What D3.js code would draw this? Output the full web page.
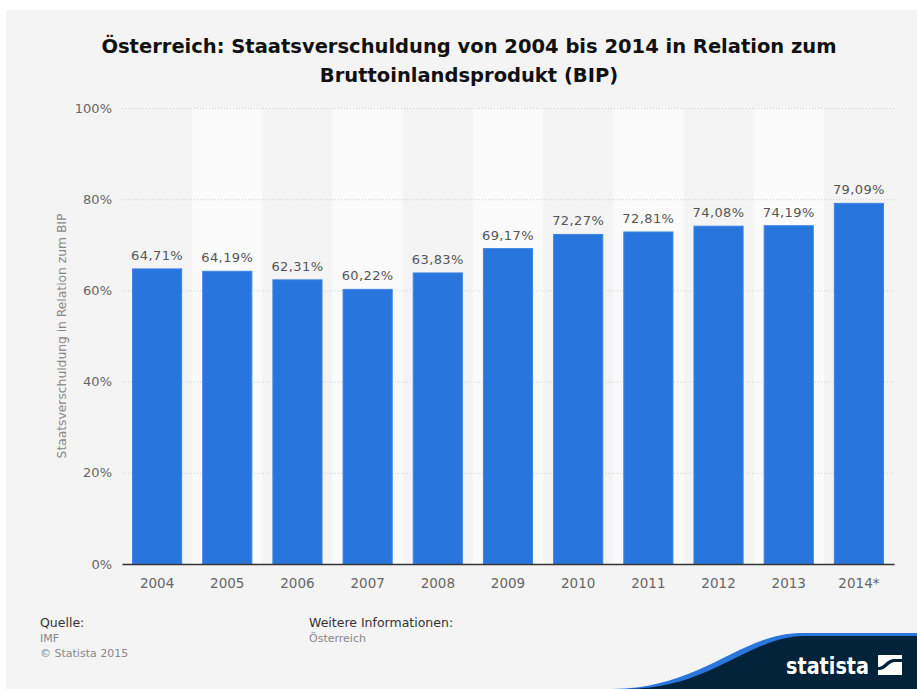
<!DOCTYPE html>
<html>
<head>
<meta charset="utf-8">
<script src="https://cdn.jsdelivr.net/npm/d3@7"></script>
<style>
  html, body { margin: 0; padding: 0; background: #ffffff; }
  svg { display: block; }
  text { font-family: "DejaVu Sans", sans-serif; }
</style>
</head>
<body>
<svg id="chart" width="917" height="689"></svg>
<script>
// Austrian government debt as share of GDP
const years = ["2004", "2005", "2006", "2007", "2008", "2009", "2010", "2011", "2012", "2013", "2014*"];
const debtShare = [64.71, 64.19, 62.31, 60.22, 63.83, 69.17, 72.27, 72.81, 74.08, 74.19, 79.09];
const yTicks = [0, 20, 40, 60, 80, 100];

const titleLines = [
  "Österreich: Staatsverschuldung von 2004 bis 2014 in Relation zum",
  "Bruttoinlandsprodukt (BIP)"
];

const svg = d3.select("#chart");
const W = 917, H = 689;

// panel background
svg.append("rect").attr("x", 6).attr("y", 10).attr("width", W - 6).attr("height", H - 10).attr("fill", "#f4f4f4");

const plot = { left: 122, right: 894, top: 108, bottom: 564 };

const x = d3.scaleBand().domain(years).range([plot.left, plot.right]).paddingInner(0.3).paddingOuter(0.15);
const bandX = d3.scaleBand().domain(years).range([plot.left, plot.right]);
const y = d3.scaleLinear().domain([0, 100]).range([plot.bottom, plot.top]);

// alternating column stripes
svg.append("g").selectAll("rect")
  .data(years.filter((d, i) => i % 2 === 1))
  .join("rect")
  .attr("x", d => bandX(d))
  .attr("y", plot.top)
  .attr("width", bandX.bandwidth())
  .attr("height", plot.bottom - plot.top)
  .attr("fill", "#fafafa");

// title
svg.append("g").selectAll("text")
  .data(titleLines)
  .join("text")
  .attr("x", 469)
  .attr("y", (d, i) => 53 + i * 29)
  .attr("text-anchor", "middle")
  .attr("font-weight", "bold")
  .attr("font-size", 19.5)
  .attr("fill", "#111")
  .text(d => d);

// y axis with dotted gridlines
const yAxis = d3.axisLeft(y).tickValues(yTicks).tickSize(-(plot.right - plot.left)).tickPadding(10)
  .tickFormat(d => d + "%");
const gy = svg.append("g").attr("transform", `translate(${plot.left},0)`).call(yAxis);
gy.select(".domain").remove();
gy.selectAll(".tick line").attr("stroke", "#cfcfcf").attr("stroke-dasharray", "1,2");
gy.selectAll(".tick text").attr("font-size", 13).attr("fill", "#666").attr("font-family", "'DejaVu Sans', sans-serif");

// bars
svg.append("g").selectAll("rect")
  .data(years.map((yr, i) => ({ yr, v: debtShare[i] })))
  .join("rect")
  .attr("x", d => x(d.yr))
  .attr("y", d => y(d.v))
  .attr("width", x.bandwidth())
  .attr("height", d => y(0) - y(d.v))
  .attr("fill", "#2875dd")
  .attr("stroke", "#3d84e3")
  .attr("stroke-width", 1);

// value labels
svg.append("g").selectAll("text")
  .data(years.map((yr, i) => ({ yr, v: debtShare[i] })))
  .join("text")
  .attr("x", d => x(d.yr) + x.bandwidth() / 2)
  .attr("y", d => y(d.v) - 9)
  .attr("text-anchor", "middle")
  .attr("font-size", 13)
  .attr("letter-spacing", 0.4)
  .attr("fill", "#555")
  .text(d => d.v.toFixed(2).replace(".", ",") + "%");

// x axis
const xAxis = d3.axisBottom(bandX).tickSize(0).tickPadding(13);
const gx = svg.append("g").attr("transform", `translate(0,${plot.bottom})`).call(xAxis);
gx.select(".domain").attr("stroke", "#333").attr("stroke-width", 1.5);
gx.selectAll(".tick text").attr("font-size", 13.5).attr("fill", "#666").attr("font-family", "'DejaVu Sans', sans-serif")
  .attr("dy", "0.85em");

// y axis title
svg.append("text")
  .attr("transform", `translate(66,${(plot.top + plot.bottom) / 2}) rotate(-90)`)
  .attr("text-anchor", "middle")
  .attr("font-size", 12.3)
  .attr("fill", "#888")
  .text("Staatsverschuldung in Relation zum BIP");

// footer
const foot = svg.append("g");
foot.append("text").attr("x", 40).attr("y", 627).attr("font-size", 12.5).attr("fill", "#333").text("Quelle:");
foot.append("text").attr("x", 40).attr("y", 642).attr("font-size", 11).attr("fill", "#888").text("IMF");
foot.append("text").attr("x", 40).attr("y", 657).attr("font-size", 11).attr("fill", "#888").text("© Statista 2015");
foot.append("text").attr("x", 309).attr("y", 627).attr("font-size", 12.5).attr("fill", "#333").text("Weitere Informationen:");
foot.append("text").attr("x", 309).attr("y", 642).attr("font-size", 11).attr("fill", "#888").text("Österreich");

// brand corner
const logo = svg.append("g");
logo.append("path")
  .attr("d", `M612,${H} C700,${H} 740,634 800,633 L${W},633 L${W},${H} Z`)
  .attr("fill", "#2a76dd");
logo.append("path")
  .attr("d", `M628,${H} C710,${H} 748,637 804,636 L${W},636 L${W},${H} Z`)
  .attr("fill", "#03233b");
logo.append("text")
  .attr("x", 786).attr("y", 674)
  .attr("font-family", "'DejaVu Sans Condensed', 'DejaVu Sans', sans-serif")
  .attr("font-stretch", "condensed")
  .attr("font-weight", "bold")
  .attr("font-size", 23)
  .attr("textLength", 83)
  .attr("lengthAdjust", "spacingAndGlyphs")
  .attr("fill", "#ffffff")
  .text("statista");
// square mark split by a curved diagonal stripe
logo.append("rect").attr("x", 878).attr("y", 655).attr("width", 24).attr("height", 20).attr("fill", "#ffffff");
logo.append("path")
  .attr("d", "M878,667 C884,667 886,660 893,659 L902,659 L902,662 L894,662 C888,663 886,670 879,670 L878,670 Z")
  .attr("fill", "#03233b");
</script>
</body>
</html>
